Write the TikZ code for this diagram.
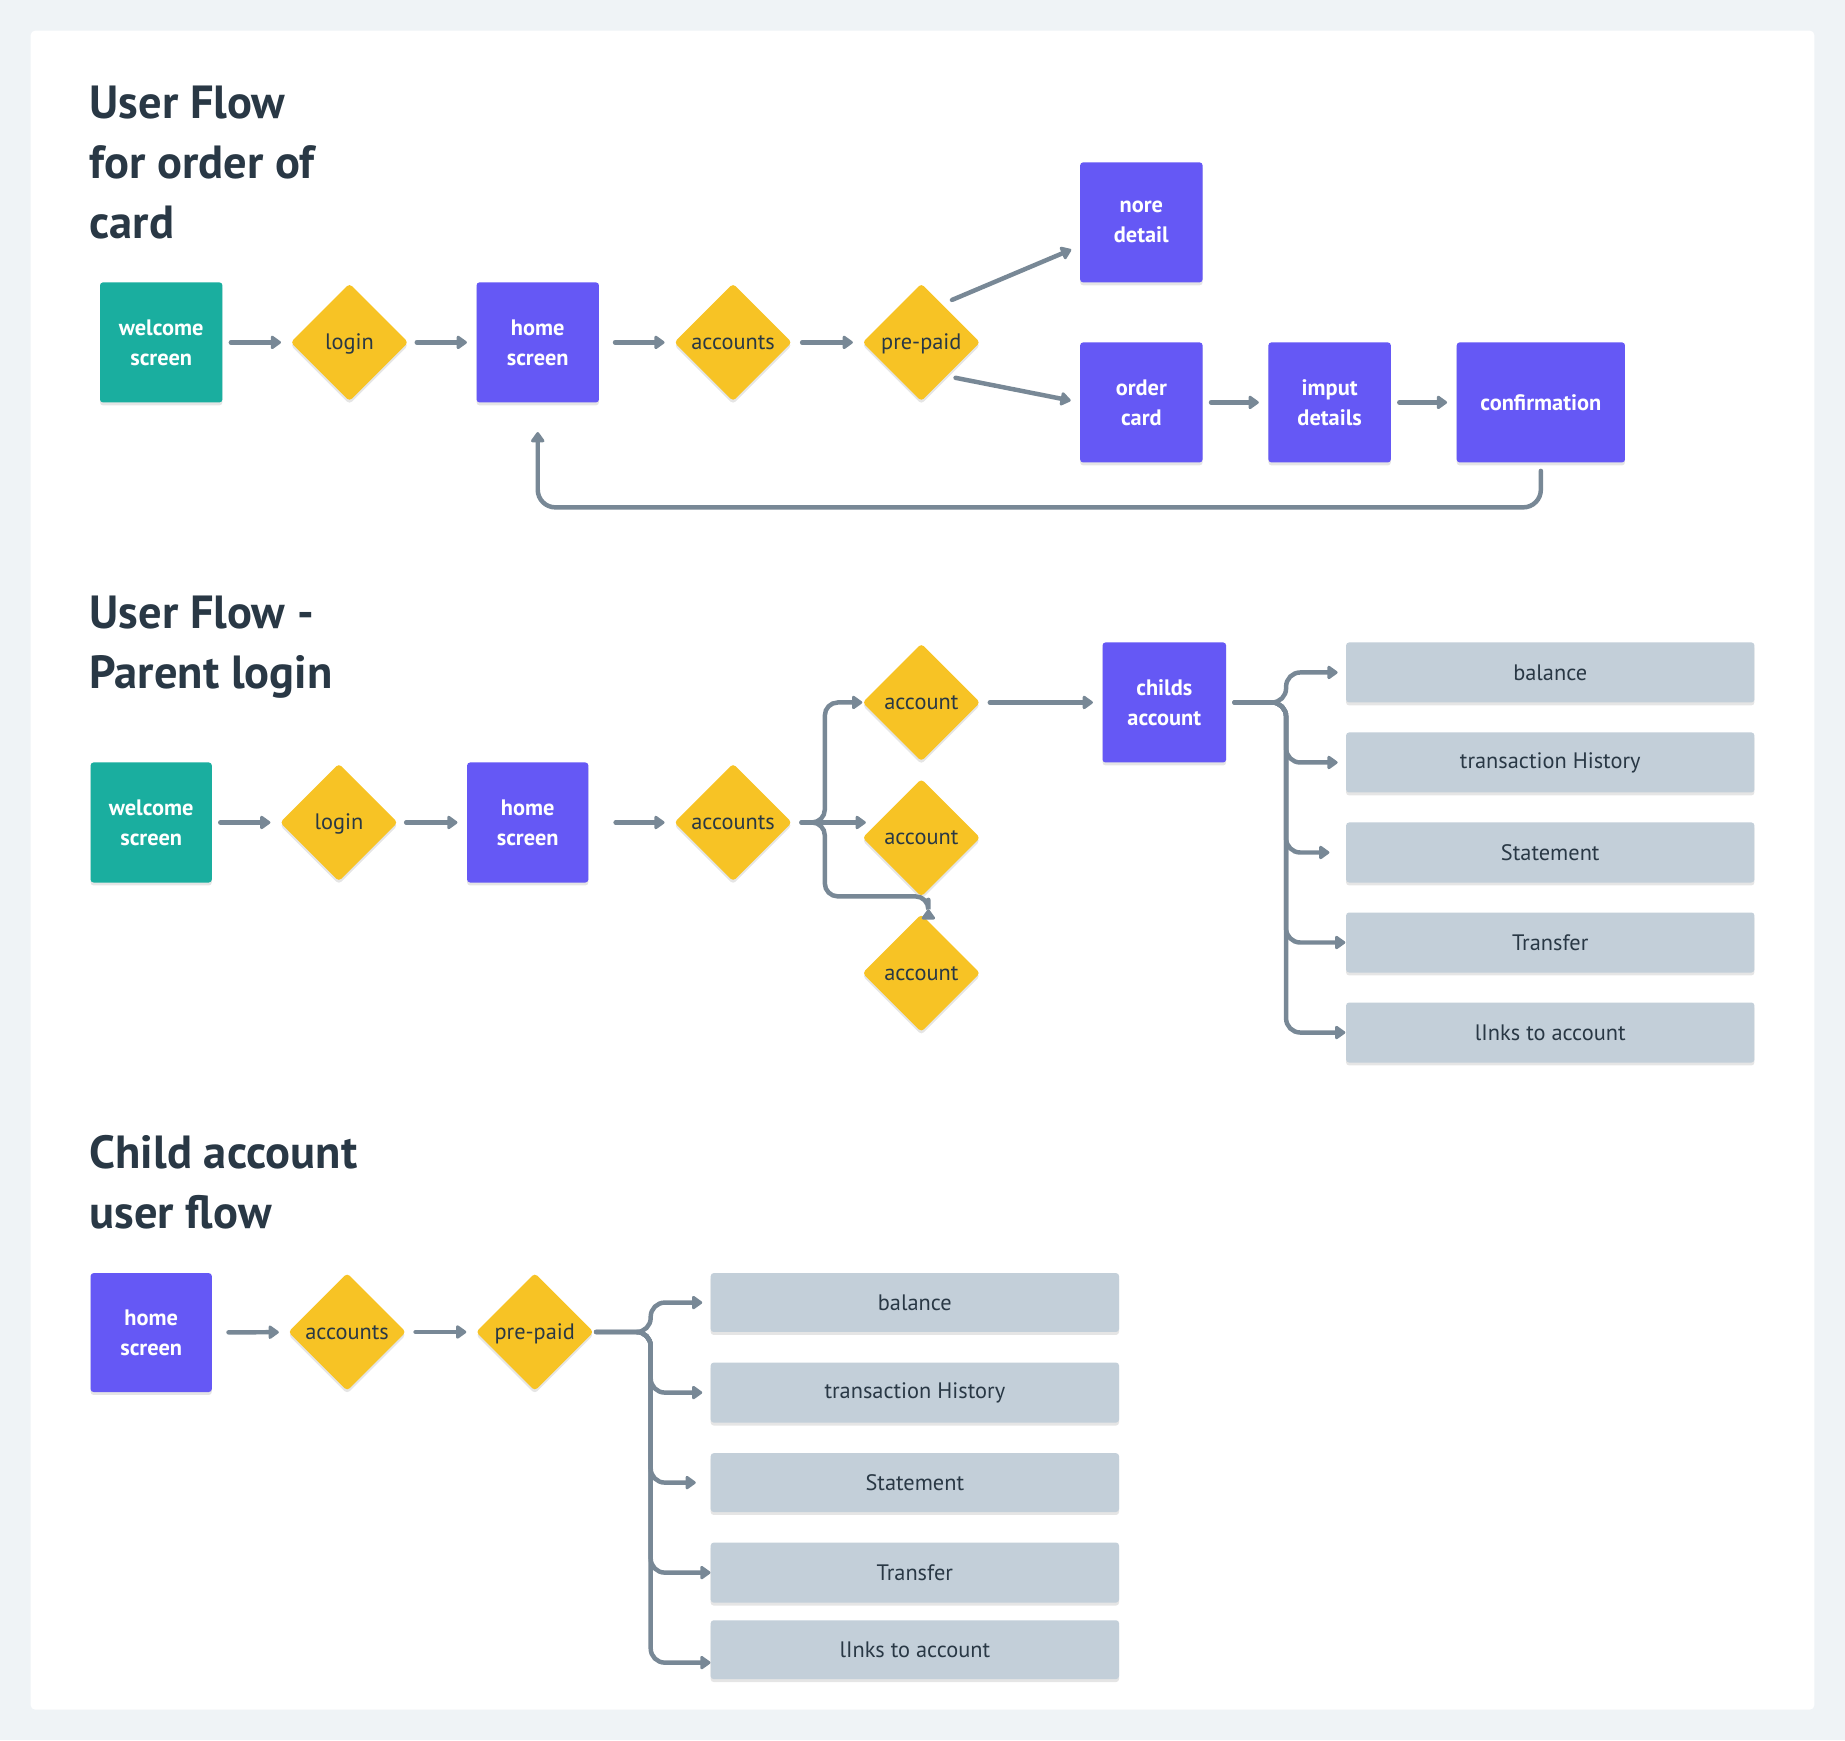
\documentclass[tikz,border=0pt]{standalone}
\usepackage{fontspec}
\setmainfont{PT Sans}
\usetikzlibrary{shapes.geometric,arrows.meta,shadows,calc}
\definecolor{pagebg}{HTML}{EFF3F6}
\definecolor{cteal}{HTML}{1AAE9F}
\definecolor{cpurple}{HTML}{6558F5}
\definecolor{cyellow}{HTML}{F7C325}
\definecolor{cgray}{HTML}{C3CFD9}
\definecolor{cline}{HTML}{788896}
\definecolor{cdark}{HTML}{293845}
\newcommand\nodefont{\fontsize{19pt}{25.5pt}\selectfont}
\newcommand\titlefont{\fontsize{39.5pt}{51pt}\selectfont\bfseries}
\tikzset{
  shad/.style={drop shadow={shadow xshift=0pt,shadow yshift=-2.5pt,opacity=0.1,fill=black}},
  boxw/.style={shad, fill=cpurple, text=white, font=\nodefont\bfseries, align=center,
    minimum width=104pt, minimum height=102pt, inner sep=0pt, rounded corners=2.5pt},
  dia/.style={shad, shape=diamond, aspect=1, fill=cyellow, text=cdark, font=\nodefont,
    minimum width=100pt, minimum height=100pt, inner sep=0pt, rounded corners=3pt,
    text height=12pt, text depth=0pt},
  gbox/.style={shad, fill=cgray, text=cdark, font=\nodefont, minimum width=347pt,
    minimum height=51pt, inner sep=0pt, rounded corners=2.5pt},
  ttl/.style={anchor=base west, text=cdark, font=\titlefont, inner sep=0pt},
  flow/.style={draw=cline, line width=3.8pt, line cap=round,
    -{Triangle[length=9.6pt,width=13pt,round]}, shorten <=7pt, shorten >=8pt},
}
\begin{document}
\begin{tikzpicture}[x=1pt,y=-1pt]
\useasboundingbox (0,0) rectangle (1568,1479);
\fill[pagebg] (0,0) rectangle (1568,1479);
\fill[white, rounded corners=4pt] (26,26) rectangle (1542,1453);

% ---------- Section 1 ----------
\node[ttl] (t1a) at (76,101) {User Flow};
\node[ttl] (t1b) at (76,152) {for order of};
\node[ttl] (t1c) at (76,203) {card};

\node[boxw, fill=cteal] (w1) at (137,291) {welcome\\screen};
\node[dia] (l1) at (297,291) {login};
\node[boxw] (h1) at (457,291) {home\\screen};
\node[dia] (a1) at (623,291) {accounts};
\node[dia] (p1) at (783,291) {pre-paid};
\node[boxw] (n1) at (970,189) {nore\\detail};
\node[boxw] (o1) at (970,342) {order\\card};
\node[boxw] (i1) at (1130,342) {imput\\details};
\node[boxw, minimum width=143pt] (c1) at (1309.5,342) {confirmation};

\draw[flow] (w1) -- (l1);
\draw[flow] (l1) -- (h1);
\draw[flow, shorten <=13.5pt] (h1) -- (a1);
\draw[flow, shorten <=8.5pt] (a1) -- (p1);
\draw[flow, shorten <=0pt] ([xshift=1pt,yshift=11pt]p1.north east) -- ([yshift=-20pt]n1.west);
\draw[flow, shorten <=0pt] ([xshift=4pt,yshift=-5pt]p1.south east) -- (o1.west);
\draw[flow] (o1) -- (i1);
\draw[flow] (i1) -- (c1);
\draw[flow, rounded corners=15pt, shorten >=25pt] (c1.south) -- ++(0,38) -| (h1.south);

% ---------- Section 2 ----------
\node[ttl] (t2a) at (76,534) {User Flow -};
\node[ttl] (t2b) at (76,585) {Parent login};

\node[boxw, fill=cteal, minimum width=103pt] (w2) at (128.5,699) {welcome\\screen};
\node[dia] (l2) at (288,699) {login};
\node[boxw, minimum width=103pt] (h2) at (448.5,699) {home\\screen};
\node[dia] (a2) at (623,699) {accounts};
\node[dia] (b1) at (783,597) {account};
\node[dia] (b2) at (783,712) {account};
\node[dia] (b3) at (783,827) {account};
\node[boxw, minimum width=105pt] (ch) at (989.5,597) {childs\\account};
\node[gbox] (g21) at (1317.5,571.5) {balance};
\node[gbox] (g22) at (1317.5,648) {transaction History};
\node[gbox] (g23) at (1317.5,724.5) {Statement};
\node[gbox] (g24) at (1317.5,801) {Transfer};
\node[gbox] (g25) at (1317.5,877.5) {lInks to account};

\draw[flow] (w2) -- (l2);
\draw[flow] (l2) -- (h2);
\draw[flow, shorten <=23pt] (h2) -- (a2);

\coordinate (j2) at (701,699);
\draw[flow, rounded corners=11pt, shorten <=8pt, shorten >=0pt] (a2.east) -- (j2) |- (b1.west);
\draw[flow, shorten <=8pt, shorten >=0pt] (a2.east) -- ([xshift=3pt,yshift=13pt]b2.west);
\draw[flow, rounded corners=11pt, shorten <=8pt, shorten >=0pt] (a2.east) -- (j2) |- ([xshift=6pt,yshift=15pt]b3.north) [sharp corners] -- ([xshift=6pt,yshift=4pt]b3.north);
\draw[flow, shorten <=8pt] (b1) -- (ch);

\coordinate (j3) at (1093,597);
\draw[flow, rounded corners=12pt, shorten >=7pt] (ch.east) -- (j3) |- (g21.west);
\draw[flow, rounded corners=12pt, shorten >=7pt] (ch.east) -- (j3) |- (g22.west);
\draw[flow, rounded corners=12pt, shorten >=14pt] (ch.east) -- (j3) |- (g23.west);
\draw[flow, rounded corners=12pt, shorten >=0.5pt] (ch.east) -- (j3) |- (g24.west);
\draw[flow, rounded corners=12pt, shorten >=0.5pt] (ch.east) -- (j3) |- (g25.west);

% ---------- Section 3 ----------
\node[ttl] (t3a) at (76,993) {Child account};
\node[ttl] (t3b) at (76,1044) {user flow};

\node[boxw, minimum width=103pt, minimum height=101pt] (h3) at (128.5,1132.5) {home\\screen};
\node[dia] (a3) at (295,1132) {accounts};
\node[dia] (p3) at (454.5,1132) {pre-paid};
\node[gbox, minimum height=50pt] (g31) at (777.5,1107) {balance};
\node[gbox] (g32) at (777.5,1183.5) {transaction History};
\node[gbox, minimum height=50pt] (g33) at (777.5,1260) {Statement};
\node[gbox] (g34) at (777.5,1336.5) {Transfer};
\node[gbox, minimum height=50pt] (g35) at (777.5,1402) {lInks to account};

\draw[flow, shorten <=14pt] (h3) -- (a3);
\draw[flow, shorten <=8pt] (a3) -- (p3);

\coordinate (j4) at (553,1132);
\draw[flow, rounded corners=12pt, shorten <=2pt, shorten >=7pt] (p3.east) -- (j4) |- (g31.west);
\draw[flow, rounded corners=12pt, shorten <=2pt, shorten >=7pt] (p3.east) -- (j4) |- (g32.west);
\draw[flow, rounded corners=12pt, shorten <=2pt, shorten >=12.5pt] (p3.east) -- (j4) |- (g33.west);
\draw[flow, rounded corners=12pt, shorten <=2pt, shorten >=0pt] (p3.east) -- (j4) |- (g34.west);
\draw[flow, rounded corners=12pt, shorten <=2pt, shorten >=0pt] (p3.east) -- (j4) |- ([yshift=-11pt]g35.west);
\end{tikzpicture}
\end{document}
